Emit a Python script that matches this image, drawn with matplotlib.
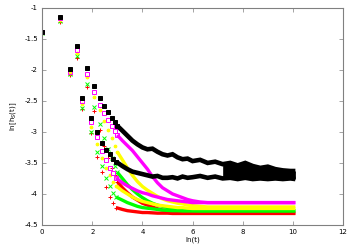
import matplotlib
matplotlib.use("Agg")
import matplotlib.pyplot as plt
import numpy as np

# early (discrete) points, even and odd t
t_even = [2, 4, 6, 8, 10, 12, 14, 16, 18, 20]
t_odd = [1, 3, 5, 7, 9, 11, 13, 15, 17, 19]

# late part: readings at ln(t) knots, where the points pile up into bands
x_late = [3.2, 3.4, 3.6, 3.8, 4.0, 4.2, 4.4, 4.6, 4.8, 5.0, 5.2, 5.4, 5.6, 5.8,
          6.0, 6.3, 6.6, 6.9, 7.2, 7.5, 7.8, 8.1, 8.4, 8.7, 9.0, 9.3, 9.6, 9.9, 10.1]

black_even = [-1.15, -1.61, -1.97, -2.26, -2.45, -2.58, -2.68, -2.77, -2.84, -2.9]
black_odd = [-1.39, -1.99, -2.45, -2.78, -3.0, -3.18, -3.29, -3.36, -3.43, -3.48]
black_even_late = [-2.98, -3.06, -3.14, -3.2, -3.25, -3.28, -3.27, -3.32, -3.36, -3.38,
                   -3.36, -3.41, -3.44, -3.43, -3.47, -3.45, -3.5, -3.48, -3.52, -3.5,
                   -3.54, -3.5, -3.55, -3.58, -3.56, -3.6, -3.62, -3.63, -3.63]
black_odd_late = [-3.55, -3.6, -3.64, -3.66, -3.68, -3.7, -3.72, -3.71, -3.74, -3.74,
                  -3.73, -3.75, -3.72, -3.74, -3.73, -3.71, -3.74, -3.72, -3.75, -3.74,
                  -3.76, -3.74, -3.76, -3.75, -3.76, -3.75, -3.76, -3.75, -3.76]

magenta_even = [-1.17, -1.68, -2.06, -2.36, -2.56, -2.7, -2.8, -2.9, -2.98, -3.05]
magenta_odd = [-1.39, -2.03, -2.5, -2.84, -3.08, -3.3, -3.45, -3.58, -3.67, -3.74]
magenta_even_late = [-3.14, -3.22, -3.3, -3.4, -3.5, -3.6, -3.72, -3.82, -3.9, -3.95,
                     -4.0, -4.03, -4.06, -4.09, -4.11, -4.13, -4.14, -4.14, -4.14, -4.14,
                     -4.14, -4.14, -4.14, -4.14, -4.14, -4.14, -4.14, -4.14, -4.14]
magenta_odd_late = [-3.82, -3.87, -3.91, -3.95, -3.98, -4.0, -4.03, -4.05, -4.07, -4.09,
                    -4.1, -4.11, -4.12, -4.13, -4.14, -4.14, -4.14, -4.14, -4.14, -4.14,
                    -4.14, -4.14, -4.14, -4.14, -4.14, -4.14, -4.14, -4.14, -4.14]

yellow_even = [-1.19, -1.72, -2.11, -2.43, -2.65, -2.82, -2.97, -3.1, -3.22, -3.32]
yellow_odd = [-1.4, -2.05, -2.55, -2.92, -3.2, -3.42, -3.58, -3.7, -3.8, -3.87]
yellow_even_late = [-3.45, -3.58, -3.7, -3.8, -3.88, -3.94, -3.99, -4.04, -4.08, -4.11,
                    -4.13, -4.15, -4.16, -4.18, -4.19, -4.2, -4.21, -4.21, -4.21, -4.21,
                    -4.21, -4.21, -4.21, -4.21, -4.21, -4.21, -4.21, -4.21, -4.21]
yellow_odd_late = [-3.95, -4.0, -4.05, -4.09, -4.12, -4.14, -4.16, -4.18, -4.19, -4.2,
                   -4.21, -4.22, -4.22, -4.23, -4.235, -4.235, -4.235, -4.235, -4.235, -4.235,
                   -4.235, -4.235, -4.235, -4.235, -4.235, -4.235, -4.235, -4.235, -4.235]

green_even = [-1.21, -1.78, -2.23, -2.6, -2.88, -3.1, -3.28, -3.42, -3.55, -3.65]
green_odd = [-1.4, -2.07, -2.62, -3.0, -3.33, -3.55, -3.75, -3.88, -3.98, -4.05]
green_even_late = [-3.75, -3.85, -3.93, -4.0, -4.06, -4.11, -4.15, -4.18, -4.2, -4.22,
                   -4.23, -4.24, -4.25, -4.26, -4.265, -4.27, -4.27, -4.27, -4.27, -4.27,
                   -4.27, -4.27, -4.27, -4.27, -4.27, -4.27, -4.27, -4.27, -4.27]
green_odd_late = [-4.1, -4.14, -4.17, -4.2, -4.22, -4.23, -4.24, -4.25, -4.26, -4.265,
                  -4.27, -4.27, -4.275, -4.275, -4.275, -4.275, -4.275, -4.275, -4.275, -4.275,
                  -4.275, -4.275, -4.275, -4.275, -4.275, -4.275, -4.275, -4.275, -4.275]

red_even = [-1.22, -1.8, -2.27, -2.66, -2.97, -3.22, -3.42, -3.58, -3.7, -3.8]
red_odd = [-1.4, -2.08, -2.63, -3.02, -3.4, -3.65, -3.89, -4.05, -4.15, -4.22]
red_even_late = [-3.9, -3.98, -4.05, -4.1, -4.15, -4.18, -4.21, -4.24, -4.26, -4.27,
                 -4.28, -4.29, -4.295, -4.3, -4.305, -4.31, -4.31, -4.31, -4.31, -4.31,
                 -4.31, -4.31, -4.31, -4.31, -4.31, -4.31, -4.31, -4.31, -4.31]
red_odd_late = [-4.25, -4.27, -4.28, -4.29, -4.3, -4.3, -4.305, -4.31, -4.31, -4.31,
                -4.315, -4.315, -4.315, -4.315, -4.315, -4.315, -4.315, -4.315, -4.315, -4.315,
                -4.315, -4.315, -4.315, -4.315, -4.315, -4.315, -4.315, -4.315, -4.315]

x_ticks = [0, 2, 4, 6, 8, 10, 12]
y_ticks = [-4.5, -4, -3.5, -3, -2.5, -2, -1.5, -1]
y_tick_labels = ['-4.5', '-4', '-3.5', '-3', '-2.5', '-2', '-1.5', '-1']

series = [
    # color, marker, filled, early even, early odd, late even, late odd
    ('#ff0000', '+', True, red_even, red_odd, red_even_late, red_odd_late),
    ('#00ff00', 'x', True, green_even, green_odd, green_even_late, green_odd_late),
    ('#ffff00', 'o', True, yellow_even, yellow_odd, yellow_even_late, yellow_odd_late),
    ('#ff00ff', 's', False, magenta_even, magenta_odd, magenta_even_late, magenta_odd_late),
    ('#000000', 's', True, black_even, black_odd, black_even_late, black_odd_late),
]

fig = plt.figure(figsize=(3.54, 2.48), dpi=100)
ax = fig.add_axes([0.119, 0.093, 0.850, 0.875])

xe = np.log(t_even)
xo = np.log(t_odd)
for color, mk, filled, ye, yo, yel, yol in series:
    ms = 2.6 if mk == 's' else 3.2
    if mk == 'o':
        ms = 2.0
    mfc = color if filled else 'none'
    lw = 3.3 if color == '#000000' else 2.4
    for xx, yy, yl in [(xe, ye, yel), (xo, yo, yol)]:
        ax.plot(xx, yy, ls='none', marker=mk, ms=ms, mfc=mfc, mec=color, mew=0.7)
        # dense tail: points merge into a band, joined from the last early point
        ax.plot([xx[-1]] + x_late, [yy[-1]] + yl, color=color, lw=lw,
                solid_capstyle='butt', solid_joinstyle='miter')
    if color == '#000000':
        # where both branches overlap into one solid strip
        xl = np.array(x_late)
        m = xl >= 7.2
        ax.fill_between(xl[m], np.array(yel)[m], np.array(yol)[m], color=color, lw=0)

ax.set_xlim(0, 12)
ax.set_ylim(-4.5, -1)
ax.set_xticks(x_ticks)
ax.set_xticklabels([str(v) for v in x_ticks])
ax.set_yticks(y_ticks)
ax.set_yticklabels(y_tick_labels)
ax.tick_params(direction='in', top=True, right=True, length=3, width=0.5,
               color='#808080', labelsize=5, pad=3)
for s in ax.spines.values():
    s.set_color('#808080')
    s.set_linewidth(0.8)

ax.set_xlabel('ln(t)', fontsize=5, labelpad=1)
ax.set_ylabel('ln[h$_S$(t)]', fontsize=5, labelpad=4)

fig.savefig('out.png', dpi=100)
